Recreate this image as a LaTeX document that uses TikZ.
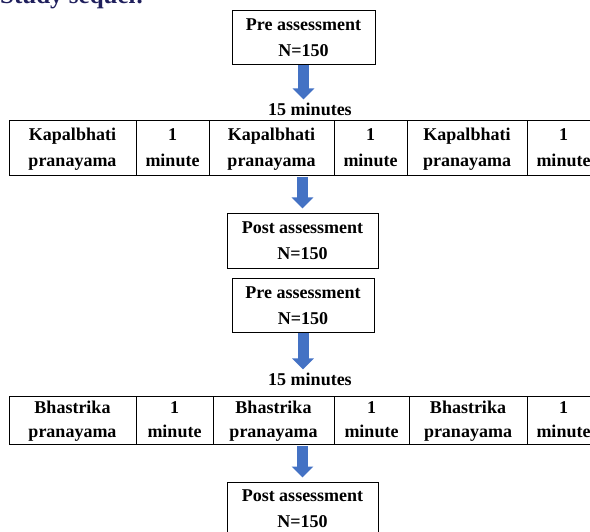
\documentclass[tikz,border=0pt]{standalone}
\usepackage{fontspec}
\setmainfont{Liberation Serif}
\usetikzlibrary{arrows.meta}
\definecolor{arrowblue}{HTML}{4472C4}
\definecolor{headnavy}{HTML}{1F1F5C}

\begin{document}
\begin{tikzpicture}[x=1pt,y=-1pt,
        box/.style={draw,line width=1pt,align=center,inner sep=0pt,font=\bfseries\fontsize{18}{26}\selectfont},
        cell/.style={draw,line width=1pt,align=center,inner sep=0pt,font=\bfseries\fontsize{18}{26}\selectfont},
        tcell/.style={cell,font=\bfseries\fontsize{18}{24}\selectfont},
        lbl/.style={inner sep=0pt,font=\bfseries\fontsize{18}{22}\selectfont},
        flow/.style={arrowblue,line width=11pt,-{Triangle[width=21pt,length=11pt]}}]
        \useasboundingbox (0,0) rectangle (590,532);
        \clip (0,0) rectangle (590,532);
        \node[anchor=base west,inner sep=0pt,text=headnavy,font=\bfseries\fontsize{25}{28}\selectfont] (Title) at (0,4) {Study sequel:};
        % first session
        \node[box,minimum width=143pt,minimum height=54pt] (Pre_1) at (303.5,38) {Pre assessment\strut\\N=150\strut};
        \node[lbl] (Min_1) at (310,109) {15 minutes};
        \node[cell,minimum width=127pt,minimum height=55pt] (Kap_1) at (72.5,148.5) {Kapalbhati\strut\\pranayama\strut};
        \node[cell,minimum width=73pt,minimum height=55pt] (Kap_min_1) at (172.5,148.5) {1\strut\\minute\strut};
        \node[cell,minimum width=125pt,minimum height=55pt] (Kap_2) at (271.5,148.5) {Kapalbhati\strut\\pranayama\strut};
        \node[cell,minimum width=73pt,minimum height=55pt] (Kap_min_2) at (370.5,148.5) {1\strut\\minute\strut};
        \node[cell,minimum width=120pt,minimum height=55pt] (Kap_3) at (467,148.5) {Kapalbhati\strut\\pranayama\strut};
        \node[cell,minimum width=73pt,minimum height=55pt] (Kap_min_3) at (563.5,148.5) {1\strut\\minute\strut};
        \node[box,minimum width=151pt,minimum height=55pt] (Post_1) at (302.5,241.5) {Post assessment\strut\\N=150\strut};
        % second session
        \node[box,minimum width=142pt,minimum height=54pt] (Pre_2) at (303,306) {Pre assessment\strut\\N=150\strut};
        \node[lbl] (Min_2) at (310,379) {15 minutes};
        \node[tcell,minimum width=127pt,minimum height=47pt] (Bha_1) at (72.5,420.5) {Bhastrika\strut\\pranayama\strut};
        \node[tcell,minimum width=77pt,minimum height=47pt] (Bha_min_1) at (174.5,420.5) {1\strut\\minute\strut};
        \node[tcell,minimum width=121pt,minimum height=47pt] (Bha_2) at (273.5,420.5) {Bhastrika\strut\\pranayama\strut};
        \node[tcell,minimum width=75pt,minimum height=47pt] (Bha_min_2) at (371.5,420.5) {1\strut\\minute\strut};
        \node[tcell,minimum width=118pt,minimum height=47pt] (Bha_3) at (468,420.5) {Bhastrika\strut\\pranayama\strut};
        \node[tcell,minimum width=73pt,minimum height=47pt] (Bha_min_3) at (563.5,420.5) {1\strut\\minute\strut};
        \node[box,minimum width=151pt,minimum height=55pt] (Post_2) at (302.5,509.5) {Post assessment\strut\\N=150\strut};
        % arrows
        \draw[flow,shorten >=3pt] (Pre_1.south) -- (Pre_1.south |- Min_1.north);
        \draw[flow,shorten <=1pt,shorten >=5pt] (Post_1.north |- Kap_2.south) -- (Post_1.north);
        \draw[flow,shorten >=3pt] (Pre_2.south) -- (Pre_2.south |- Min_2.north);
        \draw[flow,shorten <=1pt,shorten >=4pt] (Post_2.north |- Bha_2.south) -- (Post_2.north);
    \end{tikzpicture}
\end{document}
